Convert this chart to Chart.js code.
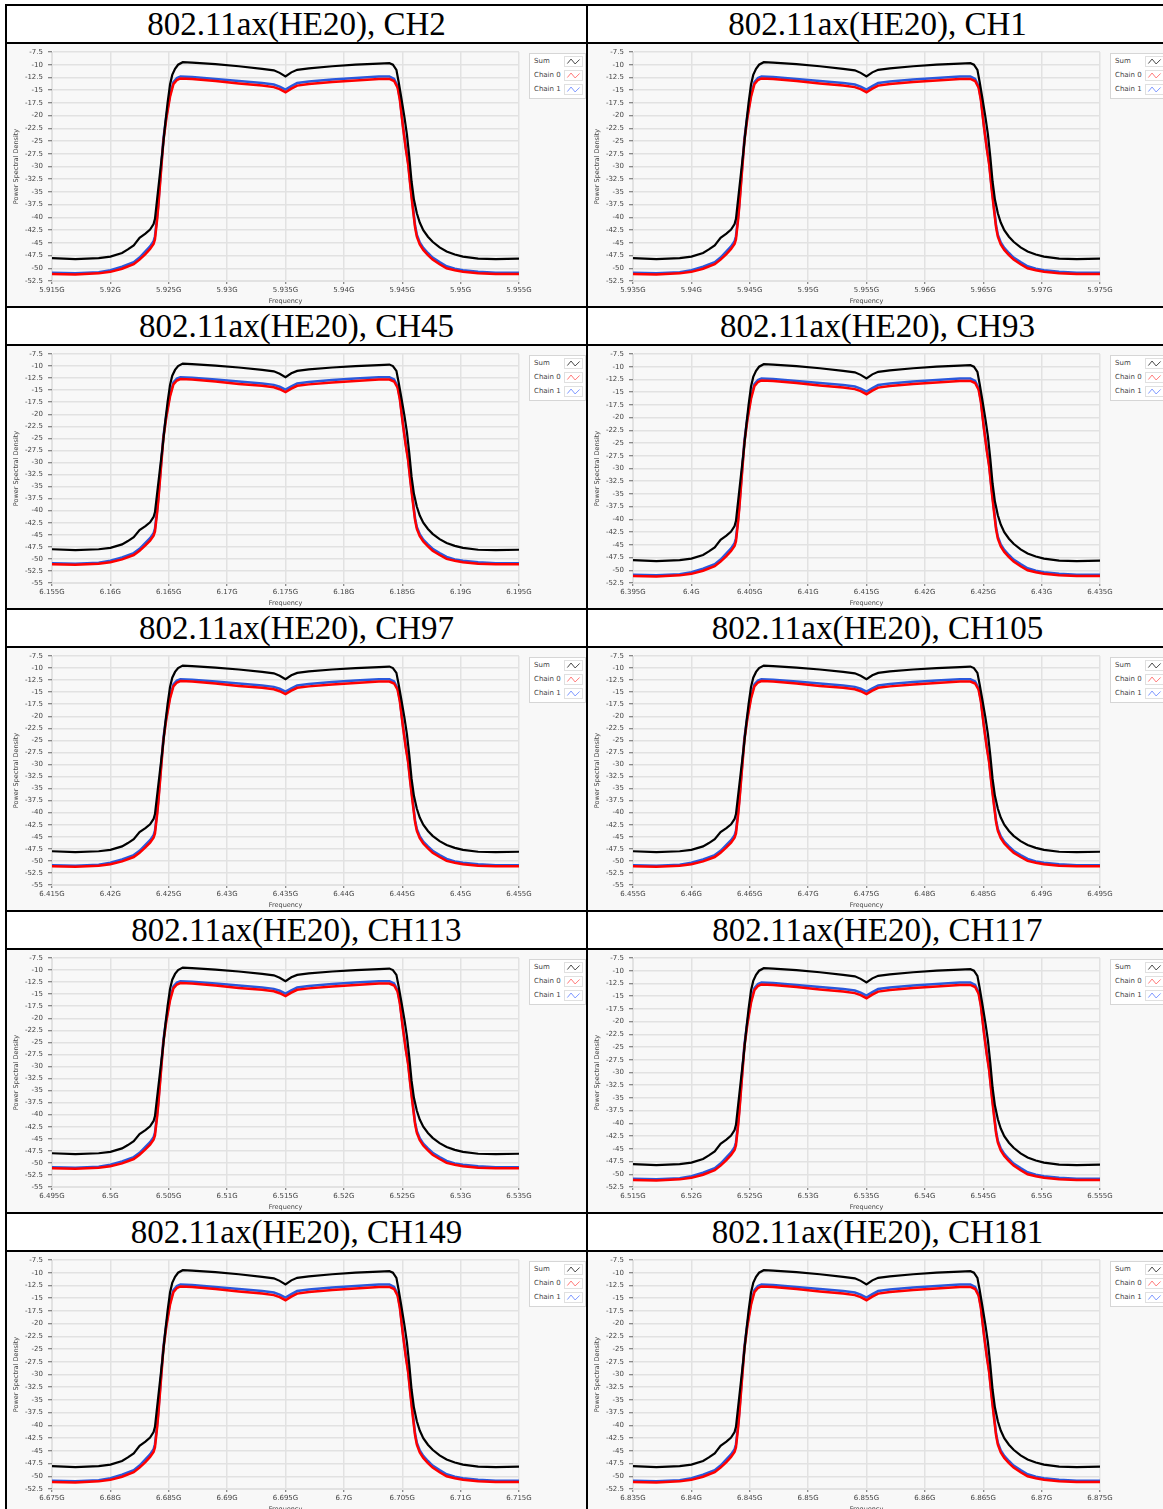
<!DOCTYPE html>
<html>
<head>
<meta charset="utf-8">
<script src="https://cdn.jsdelivr.net/npm/chart.js@4.4.1/dist/chart.umd.min.js"></script>
<style>
  body { margin: 0; background: #fff; width: 1163px; height: 1509px; overflow: hidden; position: relative; }
  #tabla { position: absolute; left: 5px; top: 4px; display: grid;
           grid-template-columns: 581px 581px; grid-template-rows: repeat(5, 38px 264px);
           border-left: 2px solid #000; border-top: 2px solid #000; }
  .celda { border-right: 2px solid #000; border-bottom: 2px solid #000; position: relative; overflow: hidden; }
  .titulo { font-family: 'Liberation Serif', serif; font-size: 33px; line-height: 36px; text-align: center; color: #000; }
  .panel { background: #f8f8f8; }
  .panel canvas { position: absolute; left: 0; top: 0; }
  .leyenda { position: absolute; left: 522px; top: 9px; width: 55px; height: 44px; background: #fff;
             border: 1px solid #d6d6d6; font: 7px 'DejaVu Sans', sans-serif; color: #444; }
  .leyenda span { position: absolute; left: 4px; line-height: 11px; }
  .leyenda svg { position: absolute; left: 34px; width: 19px; height: 11px; border: 1px solid #e0e0e0; box-sizing: border-box; }
</style>
</head>
<body>
<div id="tabla"></div>
<script>
// Canales y etiquetas del eje de frecuencia de cada gráfica
const titulos = ['802.11ax(HE20), CH2', '802.11ax(HE20), CH1', '802.11ax(HE20), CH45', '802.11ax(HE20), CH93',
                 '802.11ax(HE20), CH97', '802.11ax(HE20), CH105', '802.11ax(HE20), CH113', '802.11ax(HE20), CH117',
                 '802.11ax(HE20), CH149', '802.11ax(HE20), CH181'];
const etiquetasFrecuencia = [
  ['5.915G', '5.92G', '5.925G', '5.93G', '5.935G', '5.94G', '5.945G', '5.95G', '5.955G'],
  ['5.935G', '5.94G', '5.945G', '5.95G', '5.955G', '5.96G', '5.965G', '5.97G', '5.975G'],
  ['6.155G', '6.16G', '6.165G', '6.17G', '6.175G', '6.18G', '6.185G', '6.19G', '6.195G'],
  ['6.395G', '6.4G', '6.405G', '6.41G', '6.415G', '6.42G', '6.425G', '6.43G', '6.435G'],
  ['6.415G', '6.42G', '6.425G', '6.43G', '6.435G', '6.44G', '6.445G', '6.45G', '6.455G'],
  ['6.455G', '6.46G', '6.465G', '6.47G', '6.475G', '6.48G', '6.485G', '6.49G', '6.495G'],
  ['6.495G', '6.5G', '6.505G', '6.51G', '6.515G', '6.52G', '6.525G', '6.53G', '6.535G'],
  ['6.515G', '6.52G', '6.525G', '6.53G', '6.535G', '6.54G', '6.545G', '6.55G', '6.555G'],
  ['6.675G', '6.68G', '6.685G', '6.69G', '6.695G', '6.7G', '6.705G', '6.71G', '6.715G'],
  ['6.835G', '6.84G', '6.845G', '6.85G', '6.855G', '6.86G', '6.865G', '6.87G', '6.875G']
];
const minimosY = [-52.5, -52.5, -55, -52.5, -55, -55, -55, -52.5, -52.5, -52.5];

// Espectro: desplazamiento en MHz respecto al centro del canal, densidad en dB
const frecuenciaSuma = [-20, -18, -16, -15, -14, -13.5, -13, -12.5, -12, -11.6, -11.3, -11.18, -11.0, -10.75, -10.5,
  -10.32, -10.1, -9.89, -9.7, -9.46, -9.2, -8.8, -8, -6, -4, -2, -1, -0.5, 0, 0.5, 1, 2, 4, 6, 8, 8.9, 9.2, 9.5, 9.7, 9.95,
  10.2, 10.4, 10.6, 10.8, 11, 11.25, 11.5, 11.8, 12.2, 12.6, 13.2, 13.8, 14.5, 15.2, 16.5, 18, 20];
const densidadSuma = [-48.0, -48.2, -48.0, -47.7, -47.0, -46.3, -45.5, -44.0, -43.2, -42.4, -41.3, -40.3, -36.5, -31.3, -26.2,
  -22.0, -17.5, -13.9, -12.0, -10.8, -10.0, -9.5, -9.6, -9.9, -10.3, -10.8, -11.1, -11.6, -12.3, -11.5, -11.0, -10.7, -10.3, -10.0, -9.8, -9.7, -10.0, -11.0, -13.5, -16.9,
  -20.5, -23.7, -28.0, -33.0, -36.5, -39.2, -41.0, -42.5, -43.8, -44.8, -45.9, -46.7, -47.3, -47.7, -48.1, -48.2, -48.1];

const frecuenciaCadena = [-20, -18, -16, -15, -14, -13, -12.5, -12, -11.6, -11.3, -11.18, -11.0, -10.9, -10.46, -10.2,
  -9.89, -9.6, -9.3, -9.0, -8, -6, -4, -2, -1, -0.5, 0, 0.5, 1, 2, 4, 6, 8, 8.9, 9.3, 9.6, 9.8, 10.06, 10.3, 10.5, 10.7,
  10.92, 11.1, 11.25, 11.5, 11.8, 12.2, 12.6, 13.2, 13.8, 14.5, 15.2, 16.5, 18, 20];
const densidadCadena0 = [-51.1, -51.2, -51.0, -50.7, -50.1, -49.2, -48.3, -47.2, -46.2, -45.2, -44.3, -40.5, -38.0, -25.0, -20.5,
  -16.3, -13.8, -13.0, -12.7, -12.8, -13.2, -13.7, -14.1, -14.4, -14.8, -15.4, -14.7, -14.1, -13.8, -13.4, -13.1, -12.8, -12.8, -13.2, -14.5, -17.0, -22.2, -26.5, -29.5, -34.0,
  -38.5, -42.0, -43.8, -45.3, -46.4, -47.4, -48.3, -49.2, -50.0, -50.4, -50.7, -51.0, -51.1, -51.1];
const densidadCadena1 = [-50.9, -51.0, -50.8, -50.4, -49.7, -48.8, -47.9, -46.7, -45.7, -44.7, -43.7, -40.0, -37.5, -24.5, -20.0,
  -15.9, -13.4, -12.6, -12.3, -12.4, -12.8, -13.2, -13.6, -13.9, -14.3, -14.9, -14.2, -13.6, -13.3, -12.9, -12.6, -12.3, -12.3, -12.8, -14.2, -16.7, -22.0, -26.2, -29.2, -33.6,
  -38.0, -41.6, -43.4, -44.9, -46.0, -47.0, -47.9, -48.8, -49.6, -50.1, -50.4, -50.7, -50.9, -50.9];

const nombresSeries = ['Sum', 'Chain 0', 'Chain 1'];
const coloresIcono = ['#333', '#ff6a6a', '#6f8cff'];

Chart.defaults.font.family = "'DejaVu Sans', sans-serif";
Chart.defaults.color = '#444';

function puntos(xs, ys) {
  return xs.map((x, i) => ({ x: x, y: ys[i] }));
}

function crearLeyenda(celda) {
  const caja = document.createElement('div');
  caja.className = 'leyenda';
  nombresSeries.forEach((nombre, i) => {
    const top = 2 + i * 14;
    caja.innerHTML += `<span style="top:${top}px">${nombre}</span>` +
      `<svg style="top:${top}px" viewBox="0 0 19 11"><polyline points="2,8 6.5,2.5 11.5,8.5 17,3" fill="none" stroke="${coloresIcono[i]}" stroke-width="1.1"/></svg>`;
  });
  celda.appendChild(caja);
}

function crearGrafica(canvas, indice) {
  const etiquetas = etiquetasFrecuencia[indice];
  const rejilla = { color: '#e2e2e2', lineWidth: 1.5, tickColor: '#666', tickWidth: 1 };
  return new Chart(canvas.getContext('2d'), {
    type: 'line',
    data: {
      datasets: [
        { label: nombresSeries[0], data: puntos(frecuenciaSuma, densidadSuma), borderColor: '#000', borderWidth: 2.2, order: 1 },
        { label: nombresSeries[1], data: puntos(frecuenciaCadena, densidadCadena0), borderColor: '#ff0000', borderWidth: 2.5, order: 2 },
        { label: nombresSeries[2], data: puntos(frecuenciaCadena, densidadCadena1), borderColor: '#2a58dc', borderWidth: 2.5, order: 3 }
      ]
    },
    options: {
      responsive: false,
      animation: false,
      elements: { point: { radius: 0 }, line: { tension: 0 } },
      layout: { padding: { top: 8, right: 67, left: 0, bottom: 0 } },
      plugins: { legend: { display: false }, tooltip: { enabled: false } },
      scales: {
        x: {
          type: 'linear', min: -20, max: 20,
          ticks: { stepSize: 5, autoSkip: false, maxRotation: 0, padding: 2, font: { size: 7 },
                   callback: (v, i) => etiquetas[i] },
          grid: Object.assign({ tickLength: 3 }, rejilla),
          border: { color: '#e2e2e2' },
          title: { display: true, text: 'Frequency', font: { size: 6.5 }, padding: { top: 0, bottom: 1 } },
          afterFit: (escala) => { escala.height = 25; }
        },
        y: {
          min: minimosY[indice], max: -7.5,
          ticks: { stepSize: 2.5, autoSkip: false, padding: 1, font: { size: 7 } },
          grid: Object.assign({ tickLength: 8, tickBorderDash: [0, 4, 4, 20] }, rejilla),
          border: { color: '#e2e2e2' },
          title: { display: true, text: 'Power Spectral Density', font: { size: 6.5 }, padding: { top: 5, bottom: 0 } },
          afterFit: (escala) => { escala.width = 45; }
        }
      }
    }
  });
}

function construirTabla() {
  const tabla = document.getElementById('tabla');
  for (let fila = 0; fila < 5; fila++) {
    // fila de títulos
    for (let col = 0; col < 2; col++) {
      const celda = document.createElement('div');
      celda.className = 'celda titulo';
      celda.textContent = titulos[fila * 2 + col];
      tabla.appendChild(celda);
    }
    // fila de gráficas
    for (let col = 0; col < 2; col++) {
      const indice = fila * 2 + col;
      const celda = document.createElement('div');
      celda.className = 'celda panel';
      const canvas = document.createElement('canvas');
      canvas.width = 579;
      canvas.height = 262;
      celda.appendChild(canvas);
      tabla.appendChild(celda);
      crearGrafica(canvas, indice);
      crearLeyenda(celda);
    }
  }
}

construirTabla();
</script>
</body>
</html>
